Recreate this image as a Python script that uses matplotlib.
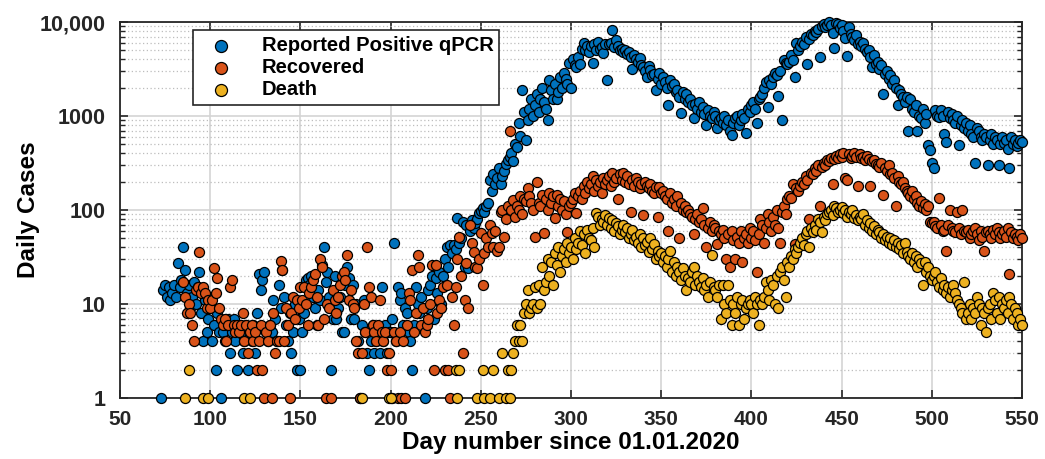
import numpy as np
import matplotlib
matplotlib.use("Agg")
import matplotlib.pyplot as plt
from matplotlib.ticker import FixedLocator, LogLocator, NullFormatter

# ---------------- data ----------------
pos_start = 73
pos_vals = [
    1, 14, 16, 12, 15, 11, 13,
    16, 12, 27, 15, 18, 40, 23, 13, 16, 9,
    12, 17, 10, 15, 22, 8, 4, 11, 5, 7,
    10, 4, 6, 2, 8, 5, 1, 5, 4, 6,
    7, 3, 5, 7, 4, 2, 6, 5, 3, 4,
    6, 2, 5, 4, 6, 3, 8, 21, 14, 18,
    22, 5, 4, 6, 5, 11, 7, 4, 16, 9,
    23, 12, 6, 4, 8, 3, 5, 10, 2, 7,
    2, 5, 8, 18, 19, 16, 20, 12, 9, 6,
    14, 11, 26, 40, 17, 22, 12, 2, 7, 20,
    7, 9, 12, 5, 5, 16, 25, 19, 7, 16,
    7, 10, 4, 1, 6, 11, 5, 3, 2, 4,
    6, 3, 4, 5, 3, 15, 4, 6, 3, 5,
    5, 7, 45, 4, 15, 11, 13, 6, 9, 8,
    5, 4, 2, 6, 15, 10, 8, 12, 6, 1,
    9, 14, 16, 20, 7, 19, 13, 22, 10, 20,
    30, 40, 25, 42, 35, 42, 38, 82, 45, 50,
    75, 25, 70, 24, 60, 78, 65, 72, 80, 92,
    98, 105, 95, 110, 120, 207, 160, 240, 190, 220,
    280, 190, 230, 260, 310, 340, 370, 400, 330, 500,
    470, 840, 620, 1900, 1100, 550, 900, 1200, 1500, 1000,
    1300, 1700, 1100, 1500, 2000, 1400, 1200, 900, 2400, 1900,
    1500, 2200, 1500, 1800, 2600, 2000, 2900, 2500, 2200, 3700,
    2000, 4000, 3500, 3300, 4200, 3600, 5200, 6000, 5000, 5500,
    4800, 5600, 3700, 5800, 5000, 6200, 5200, 5400, 4700, 5900,
    2400, 5800, 6000, 8200, 5400, 6500, 5500, 5000, 5200, 4800,
    5100, 4600, 4800, 4200, 3200, 4500, 4000, 3800, 4100, 3500,
    3300, 3000, 2600, 3400, 3100, 2700, 2800, 1900, 2500, 2900,
    2200, 2600, 2300, 2000, 1300, 2400, 2100, 2200, 1800, 1900,
    1600, 1070, 1800, 1500, 1700, 1400, 1500, 1300, 950, 1350,
    1200, 1400, 1100, 1250, 1050, 800, 1150, 1000, 950, 1100,
    1000, 740, 900, 950, 850, 1000, 800, 900, 700, 630,
    850, 950, 1000, 800, 900, 1050, 950, 660, 1200, 1100,
    1300, 1400, 1200, 850, 1500, 1600, 1700, 2000, 2300, 1250,
    2400, 2200, 2600, 2900, 2700, 1650, 3000, 900, 3900, 3700,
    3600, 3800, 4500, 3900, 2600, 6000, 5000, 5600, 6200, 5800,
    7000, 3600, 6600, 7500, 7200, 8000, 7800, 8500, 4200, 9000,
    9600, 8800, 9200, 10000, 9400, 7700, 5300, 9800, 9500, 8600,
    9200, 8000, 6700, 4400, 8800, 7500, 7000, 6500, 7200, 5800,
    6200, 5600, 6000, 5200, 4800, 5000, 4200, 3300, 4500, 3600,
    3800, 3200, 3500, 1700, 2800, 3000, 2500, 2700, 2200, 2400,
    2000, 1300, 1900, 1700, 1600, 1400, 1600, 700, 1500, 1200,
    1100, 1300, 700, 1000, 950, 1200, 850, 1050, 490, 430,
    320, 280, 1150, 1000, 970, 1150, 1000, 650, 530, 1100,
    950, 1050, 900, 850, 1000, 490, 800, 900, 750, 850,
    700, 800, 650, 600, 315, 750, 700, 600, 550, 650,
    600, 300, 550, 650, 500, 600, 550, 300, 500, 600,
    520, 550, 450, 280, 600, 500, 550, 480, 520, 550,
    530,
]

rec_start = 85
rec_vals = [
    17, 12, 8, 10, 8,
    6, 4, 14, 15, 36, 13, 15, 13, 9, 11,
    9, 11, 24, 13, 19, 9, 7, 6, 7, 4,
    6, 15, 18, 6, 5, 6, 5, 6, 8, 4,
    6, 3, 5, 6, 4, 5, 2, 4, 6, 2,
    1, 5, 4, 6, 1, 8, 3, 4, 4, 29,
    23, 4, 9, 6, 1, 8, 12, 7, 11, 9,
    15, 11, 15, 10, 6, 13, 15, 18, 21, 12,
    6, 30, 25, 7, 1, 10, 9, 1, 14, 11,
    8, 12, 16, 20, 22, 18, 33, 11, 14, 10,
    9, 4, 3, 1, 3, 10, 5, 40, 15, 12,
    6, 5, 4, 6, 11, 5, 4, 5, 2, 3,
    2, 1, 5, 4, 1, 5, 1, 4, 1, 6,
    13, 11, 23, 5, 8, 33, 25, 6, 9, 5,
    6, 7, 10, 26, 2, 26, 8, 11, 9, 15,
    2, 16, 2, 1, 12, 6, 15, 30, 52, 20,
    3, 11, 27, 9, 70, 45, 36, 25, 24, 30,
    57, 16, 35, 50, 40, 70, 57, 40, 60, 37,
    40, 95, 100, 52, 80, 110, 700, 100, 127, 85,
    110, 100, 140, 90, 130, 125, 170, 140, 120, 100,
    52, 200, 120, 110, 145, 57, 130, 100, 150, 120,
    140, 82, 145, 110, 130, 100, 125, 90, 58, 110,
    120, 130, 150, 92, 140, 160, 130, 180, 150, 200,
    170, 190, 230, 160, 210, 180, 200, 150, 220, 190,
    210, 230, 180, 250, 200, 220, 130, 240, 210, 250,
    200, 230, 190, 95, 210, 180, 220, 200, 170, 190,
    88, 200, 180, 170, 190, 160, 150, 175, 85, 175,
    150, 160, 140, 130, 60, 150, 120, 130, 110, 140,
    50, 120, 100, 110, 95, 100, 90, 85, 55, 80,
    90, 75, 80, 105, 70, 40, 65, 75, 60, 70,
    65, 44, 60, 55, 62, 50, 30, 55, 25, 60,
    48, 30, 52, 45, 60, 28, 50, 55, 45, 65,
    50, 60, 48, 22, 55, 80, 70, 45, 65, 90,
    75, 60, 85, 70, 100, 65, 45, 95, 110, 90,
    130, 140, 135, 190, 44, 170, 160, 180, 200, 190,
    230, 210, 80, 250, 240, 280, 260, 300, 110, 290,
    320, 300, 340, 330, 360, 190, 350, 380, 360, 390,
    370, 400, 220, 210, 390, 360, 380, 400, 370, 180,
    390, 360, 370, 340, 380, 350, 180, 330, 340, 310,
    300, 290, 320, 145, 280, 260, 300, 240, 250, 220,
    110, 230, 200, 190, 200, 170, 160, 150, 140, 160,
    130, 140, 120, 110, 125, 105, 115, 100, 110, 75,
    72, 75, 68, 65, 135, 70, 60, 62, 37, 70,
    100, 65, 60, 58, 95, 65, 55, 100, 60, 58,
    62, 50, 55, 60, 65, 55, 48, 60, 52, 37,
    58, 60, 55, 50, 62, 55, 65, 58, 50, 55,
    60, 52, 65, 21, 58, 50, 55, 52, 48, 55,
    50,
]

death_early_days = [86, 88, 96, 99, 119, 122, 184, 199, 200, 236, 237, 238,
                    248, 251, 252, 255, 257, 260, 262, 264, 265, 266, 267, 268]
death_early_vals = [1, 2, 1, 1, 1, 1, 1, 1, 1, 2, 1, 2,
                    1, 2, 1, 1, 2, 1, 3, 1, 2, 1, 2, 3]
death_start = 269
death_vals = [
    4, 6, 4, 6, 4, 8, 10, 14, 8, 9, 10,
    15, 9, 16, 10, 25, 14, 17, 30, 20, 28,
    16, 35, 26, 40, 22, 32, 38, 28, 45, 35,
    40, 30, 50, 38, 45, 60, 42, 55, 35, 62,
    50, 48, 65, 40, 92, 85, 70, 80, 75, 88,
    70, 82, 65, 78, 60, 72, 68, 55, 62, 70,
    58, 65, 50, 55, 62, 48, 52, 45, 55, 40,
    50, 42, 46, 36, 50, 38, 44, 30, 37, 32,
    35, 28, 32, 25, 30, 37, 22, 28, 20, 25,
    22, 18, 24, 20, 14, 19, 17, 22, 25, 16,
    20, 17, 15, 19, 14, 16, 12, 17, 33, 15,
    14, 12, 16, 7, 16, 10, 8, 16, 11, 6,
    10, 8, 12, 6, 10, 11, 7, 9, 10, 11,
    10, 8, 12, 10, 6, 11, 10, 12, 17, 14,
    11, 18, 16, 10, 20, 9, 22, 25, 18, 12,
    28, 25, 32, 30, 38, 35, 40, 45, 50, 42,
    55, 60, 40, 65, 58, 70, 62, 80, 75, 58,
    85, 78, 90, 95, 100, 88, 110, 105, 95, 100,
    108, 92, 100, 85, 95, 90, 100, 82, 88, 78,
    85, 80, 90, 70, 78, 65, 72, 60, 68, 55,
    62, 58, 50, 55, 48, 52, 45, 50, 42, 48,
    40, 45, 38, 42, 35, 45, 36, 32, 30, 35,
    28, 32, 25, 30, 27, 16, 28, 22, 25, 20,
    18, 20, 22, 17, 15, 19, 14, 16, 13, 15,
    12, 14, 16, 13, 11, 10, 9, 8, 17, 7,
    8, 10, 7, 9, 8, 12, 10, 6, 9, 8,
    5, 9, 10, 7, 13, 11, 8, 12, 7, 10,
    9, 11, 8, 12, 10, 7, 9, 8, 6, 7,
    6,
]

series_labels = ["Reported Positive qPCR", "Recovered", "Death"]
x_ticks = [50, 100, 150, 200, 250, 300, 350, 400, 450, 500, 550]
y_ticks = [1, 10, 100, 1000, 10000]
y_ticklabels = ["1", "10", "100", "1000", "10,000"]

# ---------------- figure ----------------
plt.rcParams['font.family'] = ['Liberation Sans', 'DejaVu Sans']
plt.rcParams['font.weight'] = 'bold'

fig = plt.figure(figsize=(10.45, 4.59), dpi=100)
ax = fig.add_axes([0.1148, 0.133, 0.8632, 0.819])

c_pos = '#0072BD'
c_rec = '#D95319'
c_dea = '#EDB120'
msize = 52
ew = 0.9

pos_days = np.arange(pos_start, pos_start + len(pos_vals))
rec_days = np.arange(rec_start, rec_start + len(rec_vals))
dea_days = np.concatenate([death_early_days,
                           np.arange(death_start, death_start + len(death_vals))])
dea_v = np.concatenate([death_early_vals, death_vals])

ax.scatter(pos_days, pos_vals, s=msize, c=c_pos, edgecolors='black',
           linewidths=ew, label=series_labels[0], zorder=3, clip_on=False)
ax.scatter(rec_days, rec_vals, s=msize, c=c_rec, edgecolors='black',
           linewidths=ew, label=series_labels[1], zorder=3, clip_on=False)
ax.scatter(dea_days, dea_v, s=msize, c=c_dea, edgecolors='black',
           linewidths=ew, label=series_labels[2], zorder=3, clip_on=False)

ax.set_yscale('log')
ax.set_xlim(50, 550)
ax.set_ylim(1, 10000)
ax.set_xticks(x_ticks)
ax.set_xticklabels([str(t) for t in x_ticks], fontsize=15, fontweight='bold')
ax.yaxis.set_major_locator(FixedLocator(y_ticks))
ax.set_yticklabels(y_ticklabels, fontsize=15.5, fontweight='bold')
ax.yaxis.set_minor_locator(LogLocator(base=10, subs=np.arange(2, 10), numticks=20))
ax.yaxis.set_minor_formatter(NullFormatter())

ax.grid(True, which='major', axis='both', color='#d4d4d4', linewidth=1.2, linestyle='-', zorder=0)
ax.grid(True, which='minor', axis='y', color='#bdbdbd', linewidth=0.9, linestyle=(0, (1, 2)), zorder=0)
ax.set_axisbelow(True)

ax.tick_params(which='both', direction='in', top=True, right=True, colors='#262626')
ax.tick_params(axis='y', which='major', length=6, width=1.2, pad=10)
ax.tick_params(axis='x', which='major', length=6, width=1.2, pad=9)
ax.tick_params(which='minor', length=3.5, width=1.0)
for sp in ax.spines.values():
    sp.set_color('#262626')
    sp.set_linewidth(1.3)

ax.set_xlabel('Day number since 01.01.2020', fontsize=17.5, fontweight='bold', labelpad=1)
ax.set_ylabel('Daily Cases', fontsize=17.5, fontweight='bold', labelpad=0)

leg = ax.legend(loc='upper left', bbox_to_anchor=(0.081, 0.979), borderaxespad=0,
                fancybox=False, framealpha=1, edgecolor='#262626',
                prop={'size': 14.5, 'weight': 'bold'}, handletextpad=0.9,
                borderpad=0.3, labelspacing=0.15, handlelength=2.2,
                markerscale=1.2)
leg.get_frame().set_linewidth(1.2)

fig.savefig('out.png', dpi=100)
